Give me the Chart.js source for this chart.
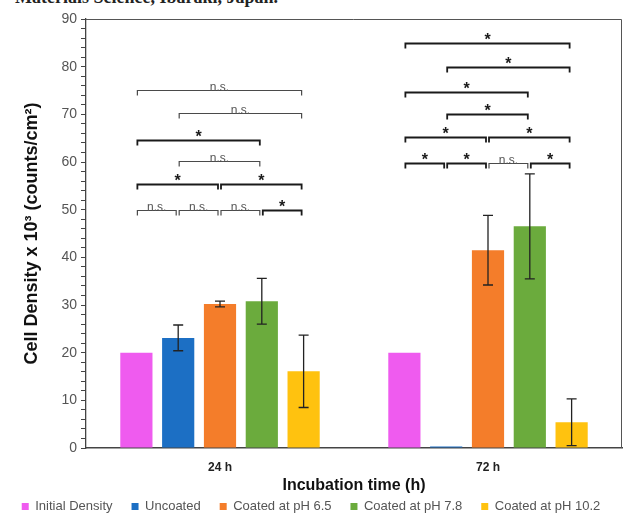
<!DOCTYPE html>
<html>
<head>
<meta charset="utf-8">
<script src="https://cdn.jsdelivr.net/npm/chart.js@4.4.1/dist/chart.umd.min.js"></script>
<style>
  html, body { margin: 0; padding: 0; background: #fff; }
  #wrap { position: relative; width: 624px; height: 517px; overflow: hidden; }
  #caption {
    position: absolute; left: 15px; top: -13px;
    font: bold 18px "Liberation Serif", serif; color: #222; white-space: nowrap;
  }
  canvas { position: absolute; left: 0; top: 0; }
</style>
</head>
<body>
<div id="wrap">
  <div id="caption">Materials Science, Ibaraki, Japan.</div>
  <canvas id="chart" width="624" height="517"></canvas>
</div>
<script>
// Cell density after incubation, x 10^3 counts/cm^2
var categories = ['24 h', '72 h'];
var seriesNames = ['Initial Density', 'Uncoated', 'Coated at pH 6.5', 'Coated at pH 7.8', 'Coated at pH 10.2'];
var seriesColors = ['#ef5bef', '#1c6fc4', '#f47d2a', '#6bab3d', '#ffc20f'];

var initialDensity = [20, 20];
var uncoated = [23.1, 0.3];
var coatedPh65 = [30.2, 41.5];
var coatedPh78 = [30.8, 46.5];
var coatedPh102 = [16.1, 5.4];

// standard deviations
var initialDensityErr = [0, 0];
var uncoatedErr = [2.7, 0];
var coatedPh65Err = [0.6, 7.3];
var coatedPh78Err = [4.8, 11];
var coatedPh102Err = [7.6, 4.9];

var yTicks = [0, 10, 20, 30, 40, 50, 60, 70, 80, 90];

// significance brackets per group: [from series, to series, level, label]
var brackets24h = [
    [0, 4, 75, 'n.s.'], [1, 4, 70.2, 'n.s.'], [0, 3, 64.6, '*'], [1, 3, 60.2, 'n.s.'],
    [0, 2, 55.3, '*'], [2, 4, 55.3, '*'],
    [0, 1, 50, 'n.s.'], [1, 2, 50, 'n.s.'], [2, 3, 50, 'n.s.'], [3, 4, 50, '*']
];
var brackets72h = [
    [0, 4, 84.9, '*'], [1, 4, 80, '*'], [0, 3, 74.6, '*'], [1, 3, 70, '*'],
    [0, 2, 65.2, '*'], [2, 4, 65.2, '*'],
    [0, 1, 59.7, '*'], [1, 2, 59.7, '*'], [2, 3, 59.7, 'n.s.'], [3, 4, 59.7, '*']
];

var seriesValues = [initialDensity, uncoated, coatedPh65, coatedPh78, coatedPh102];
var seriesErrors = [initialDensityErr, uncoatedErr, coatedPh65Err, coatedPh78Err, coatedPh102Err];
var bracketGroups = [brackets24h, brackets72h];

var FONT = '"Liberation Sans", Arial, sans-serif';
var PAD_BOTTOM = -6;

var datasets = seriesNames.map(function(name, i) {
    return {
        label: name,
        data: seriesValues[i],
        errors: seriesErrors[i],
        backgroundColor: seriesColors[i],
        borderWidth: 0,
        categoryPercentage: 0.78,
        barPercentage: 0.77
    };
});

// box round the plot area
var frame = {
    id: 'frame',
    beforeDatasetsDraw: function(chart) {
        var a = chart.chartArea, ctx = chart.ctx;
        ctx.save();
        ctx.strokeStyle = '#555';
        ctx.lineWidth = 1;
        ctx.beginPath();
        ctx.moveTo(a.left, a.top + 0.5);
        ctx.lineTo(a.right - 0.5, a.top + 0.5);
        ctx.lineTo(a.right - 0.5, a.bottom);
        ctx.stroke();
        ctx.restore();
    }
};

// error whiskers
var errorBars = {
    id: 'errorBars',
    afterDatasetsDraw: function(chart) {
        var ctx = chart.ctx, y = chart.scales.y;
        ctx.save();
        ctx.strokeStyle = '#222';
        ctx.lineWidth = 1.3;
        chart.data.datasets.forEach(function(ds, i) {
            chart.getDatasetMeta(i).data.forEach(function(bar, j) {
                var err = ds.errors[j];
                if (!err) return;
                var top = y.getPixelForValue(ds.data[j] + err);
                var bot = y.getPixelForValue(Math.max(0, ds.data[j] - err));
                ctx.beginPath();
                ctx.moveTo(bar.x, top); ctx.lineTo(bar.x, bot);
                ctx.moveTo(bar.x - 5, top); ctx.lineTo(bar.x + 5, top);
                ctx.moveTo(bar.x - 5, bot); ctx.lineTo(bar.x + 5, bot);
                ctx.stroke();
            });
        });
        ctx.restore();
    }
};

// significance brackets above each group
var sigBrackets = {
    id: 'sigBrackets',
    afterDatasetsDraw: function(chart) {
        var ctx = chart.ctx, y = chart.scales.y;
        ctx.save();
        ctx.textAlign = 'center';
        bracketGroups.forEach(function(list, g) {
            list.forEach(function(b) {
                var x1 = chart.getDatasetMeta(b[0]).data[g].x + 1;
                var x2 = chart.getDatasetMeta(b[1]).data[g].x - 2;
                var py = Math.round(y.getPixelForValue(b[2])) + 0.5;
                var star = b[3] === '*';
                ctx.strokeStyle = star ? '#1a1a1a' : '#4a4a4a';
                ctx.lineWidth = star ? 1.8 : 1.2;
                ctx.beginPath();
                ctx.moveTo(x1, py + 5); ctx.lineTo(x1, py);
                ctx.lineTo(x2, py); ctx.lineTo(x2, py + 5);
                ctx.stroke();
                if (star) {
                    ctx.fillStyle = '#1a1a1a';
                    ctx.font = 'bold 16px ' + FONT;
                    ctx.fillText('*', (x1 + x2) / 2, py - 3);
                } else {
                    ctx.fillStyle = '#555';
                    ctx.font = '12px ' + FONT;
                    ctx.fillText('n.s.', (x1 + x2) / 2, py - 3);
                }
            });
        });
        ctx.restore();
    }
};

new Chart(document.getElementById('chart'), {
    type: 'bar',
    data: { labels: categories, datasets: datasets },
    plugins: [frame, errorBars, sigBrackets],
    options: {
        responsive: false,
        animation: false,
        layout: { padding: { top: 19, right: 2, left: 0, bottom: PAD_BOTTOM } },
        plugins: {
            tooltip: { enabled: false },
            legend: {
                position: 'bottom',
                labels: {
                    boxWidth: 7, boxHeight: 7, padding: 19,
                    color: '#555',
                    font: { size: 13, family: FONT }
                }
            }
        },
        scales: {
            x: {
                grid: { display: false, drawTicks: false },
                border: { color: '#444', width: 1.5 },
                ticks: {
                    color: '#222', padding: 12, autoSkip: false,
                    font: { size: 12, weight: 'bold', family: FONT }
                },
                title: {
                    display: true, text: 'Incubation time (h)', color: '#111',
                    padding: { top: 0, bottom: -14 },
                    font: { size: 16, weight: 'bold', family: FONT }
                },
                afterFit: function(scale) {
                    var legendH = scale.chart.legend ? scale.chart.legend.height : 0;
                    scale.height = 517 - PAD_BOTTOM - 448 - legendH;
                }
            },
            y: {
                min: 0, max: 90,
                grid: { drawOnChartArea: false, color: '#444', tickLength: 5 },
                border: { color: '#444', width: 1.3 },
                ticks: {
                    stepSize: 2, autoSkip: false, color: '#555', padding: 4,
                    font: { size: 14, family: FONT },
                    callback: function(v) { return yTicks.indexOf(v) >= 0 ? String(v) : ''; }
                },
                title: {
                    display: true, text: 'Cell Density x 10\u00b3 (counts/cm\u00b2)', color: '#111',
                    padding: { top: 21, bottom: 0 },
                    font: { size: 18, weight: 'bold', family: FONT }
                },
                afterFit: function(scale) { scale.width = 86; }
            }
        }
    }
});
</script>
</body>
</html>
